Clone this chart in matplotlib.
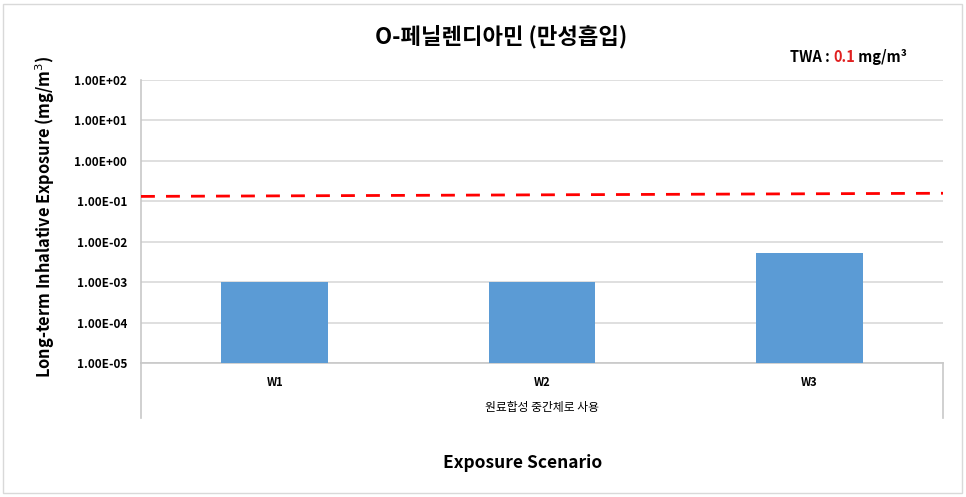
import numpy as np
import matplotlib
matplotlib.use("Agg")
import matplotlib.pyplot as plt
from matplotlib.patches import Rectangle

plt.rcParams['font.family'] = ['Noto Sans CJK KR', 'DejaVu Sans']

# data
scenarios = ["W1", "W2", "W3"]
exposure = [1.0e-3, 1.0e-3, 5.3e-3]
group_label = "원료합성 중간체로 사용"
twa_value = 0.1
twa_line_ends = [0.132, 0.158]   # drawn line is slightly tilted in the original
y_ticks = [1e-5, 1e-4, 1e-3, 1e-2, 1e-1, 1e0, 1e1, 1e2]

W, H = 966, 497
fig = plt.figure(figsize=(W / 100, H / 100), dpi=100)
fig.patches.append(Rectangle((3 / W, 4 / H), 959 / W, 489 / H, transform=fig.transFigure,
                             fill=False, edgecolor='#d9d9d9', lw=1))

ax = fig.add_axes([141 / W, (H - 363) / H, (943 - 141) / W, (363 - 80) / H])
x = np.arange(len(scenarios))
ax.bar(x, exposure, width=0.4, color='#5b9bd5', zorder=3)
ax.set_yscale('log')
ax.set_ylim(1e-5, 1e2)
ax.set_xlim(-0.5, len(scenarios) - 0.5)
ax.set_yticks(y_ticks)
ax.set_yticklabels([f"{v:.2E}" for v in y_ticks], fontsize=8.5, fontweight='bold')
ax.minorticks_off()
ax.yaxis.grid(True, color='#d9d9d9', lw=1.2, zorder=0)
ax.tick_params(axis='y', length=0, pad=10)
ax.set_xticks(x)
ax.set_xticklabels(scenarios, fontsize=8, fontweight='bold')
ax.tick_params(axis='x', length=0, pad=9)

for side in ['top', 'right']:
    ax.spines[side].set_visible(False)
ax.spines['left'].set_color('#c8c8c8')
ax.spines['bottom'].set_color('#c8c8c8')
ax.spines['left'].set_linewidth(1.2)
ax.spines['bottom'].set_linewidth(1.2)

# TWA reference line
ax.plot([-0.5, len(scenarios) - 0.5], twa_line_ends, color='#ff0000', lw=2,
        dashes=(5, 4), zorder=4)

# multi-level category axis
drop = (418 - 363) / (363 - 80)
for xa in [0, 1]:
    ax.plot([xa, xa], [0, -drop], transform=ax.transAxes, color='#c8c8c8',
            lw=1.2, clip_on=False)
ax.text(0.5, -(408 - 363) / (363 - 80), group_label, transform=ax.transAxes,
        ha='center', va='center', fontsize=8.5)

fig.text(523 / W, (H - 463) / H, "Exposure Scenario", ha='center', va='center',
         fontsize=12.5, fontweight='bold')
fig.text(45 / W, (H - 217) / H, "Long-term Inhalative Exposure (mg/m$^3$)",
         rotation=90, ha='center', va='center', fontsize=11.8, fontweight='bold')
fig.text(501 / W, (H - 37) / H, "O-페닐렌디아민 (만성흡입)", ha='center', va='center',
         fontsize=16, fontweight='bold')

t1 = fig.text(790 / W, (H - 62) / H, "TWA : ", ha='left', va='baseline',
              fontsize=10.5, fontweight='bold')
t2 = ax.annotate(f"{twa_value}", xy=(1, 0), xycoords=t1, va='bottom',
                 fontsize=10.5, fontweight='bold', color='#e02020')
ax.annotate(" mg/m³", xy=(1, 0), xycoords=t2, va='bottom',
            fontsize=10.5, fontweight='bold')

fig.savefig("out.png", dpi=100)
